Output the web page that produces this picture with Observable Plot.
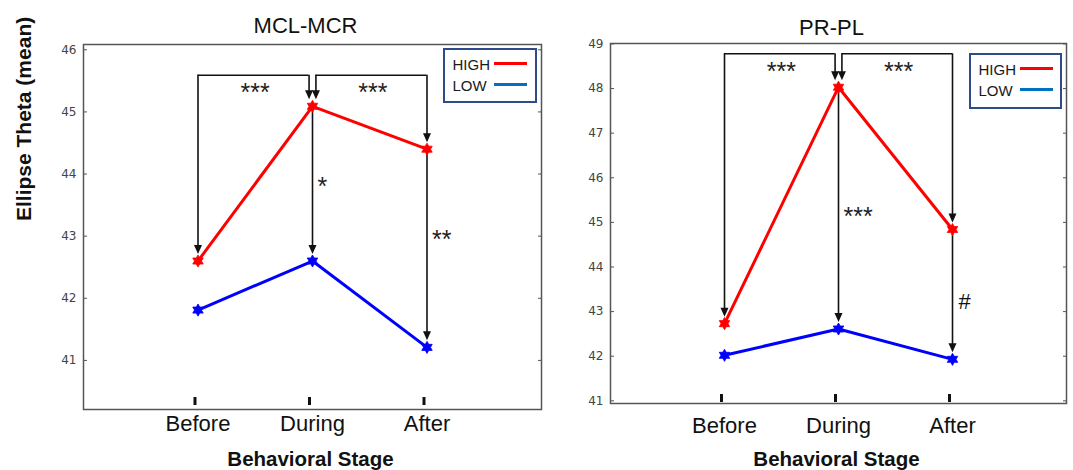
<!DOCTYPE html>
<html>
<head>
<meta charset="utf-8">
<script src="https://cdn.jsdelivr.net/npm/d3@7"></script>
<script src="https://cdn.jsdelivr.net/npm/@observablehq/plot@0.6"></script>
<style>
  body { margin: 0; background: #fff; }
  #page { position: relative; width: 1073px; height: 470px; overflow: hidden; background: #fff;
          font-family: 'Liberation Sans', Arial, sans-serif; }
  .panel { position: absolute; top: 0; }
  .legend { position: absolute; border: 2px solid #2e4b8b; box-sizing: border-box; background: #fff; }
  .legend .lab { position: absolute; font-size: 15px; line-height: 15px; color: #1a1a1a; white-space: nowrap; }
  .legend .sw { position: absolute; height: 3px; }
</style>
</head>
<body>
<div id="page">
  <div id="left" class="panel" style="left:0px"></div>
  <div id="right" class="panel" style="left:545px"></div>
</div>
<script>
// ---------------- data ----------------
const stages = ["Before", "During", "After"];
const groups = ["HIGH", "LOW"];

const mclTitle = "MCL-MCR";
const mclHigh = [42.6, 45.09, 44.4];
const mclLow = [41.81, 42.6, 41.21];
const mclYTicks = [41, 42, 43, 44, 45, 46];
const mclYDomain = [40.21, 46.085];
const mclBrackets = [
  {from: 0, to: 1, level: 45.59, label: "***"},
  {from: 2, to: 1, level: 45.59, label: "***"}
];
const mclPairs = [
  {stage: 1, label: "*", labelY: 43.9},
  {stage: 2, label: "**", labelY: 43.05}
];

const prTitle = "PR-PL";
const prHigh = [42.73, 48.03, 44.84];
const prLow = [42.02, 42.61, 41.93];
const prYTicks = [41, 42, 43, 44, 45, 46, 47, 48, 49];
const prYDomain = [40.94, 49.01];
const prBrackets = [
  {from: 0, to: 1, level: 48.78, label: "***"},
  {from: 2, to: 1, level: 48.78, label: "***"}
];
const prPairs = [
  {stage: 1, label: "***", labelY: 45.27},
  {stage: 2, label: "#", labelY: 43.22}
];

const yAxisTitle = "Ellipse Theta (mean)";
const xAxisTitle = "Behavioral Stage";

// ---------------- styles ----------------
const lineColors = ["#ff0000", "#0000ff"];
const legendColors = ["#ff0000", "#0070c0"];

const hexagram = {
  draw(ctx, size) {
    const R = Math.sqrt(size / Math.PI) * 1.1;
    const r = R / Math.sqrt(3);
    for (let k = 0; k < 12; k++) {
      const a = Math.PI * k / 6 - Math.PI / 2;
      const rad = k % 2 ? r : R;
      if (k === 0) ctx.moveTo(rad * Math.cos(a), rad * Math.sin(a));
      else ctx.lineTo(rad * Math.cos(a), rad * Math.sin(a));
    }
    ctx.closePath();
  }
};
const arrowHead = {
  draw(ctx) { ctx.moveTo(0, 0); ctx.lineTo(-4, -9); ctx.lineTo(4, -9); ctx.closePath(); }
};

function panel(cfg) {
  const {title, high, low, yTicks, yDomain, brackets, pairs, width, height,
         marginLeft, marginRight, marginTop, marginBottom,
         showYLabel, xTickPad, titleDy, xLabelDy, xTickShift, xTickDy} = cfg;
  const rows = stages.flatMap((s, i) => [
    {i, group: groups[0], value: high[i]},
    {i, group: groups[1], value: low[i]}
  ]);
  const arm = 0.03, gap = 7;
  const ends = brackets.map(b => ({...b, end: b.to + (b.to > b.from ? -arm : arm)}));
  const hRules = ends.map(b => ({y: b.level, x1: Math.min(b.from, b.end), x2: Math.max(b.from, b.end)}));
  const vArrows = [
    ...ends.flatMap(b => [
      {x: b.from, y1: b.level, y2: high[b.from]},
      {x: b.end, y1: b.level, y2: high[b.to]}
    ]),
    ...pairs.map(p => ({x: p.stage, y1: high[p.stage], y2: low[p.stage]}))
  ];
  const bLabels = ends.map(b => ({x: (b.from + b.end) / 2, y: b.level, label: b.label}));
  const starPairs = pairs.filter(p => p.label.includes("*"));
  const otherPairs = pairs.filter(p => !p.label.includes("*"));

  const marks = [
    Plot.frame({stroke: "#555", strokeWidth: 1.5}),
    Plot.axisY({ticks: yTicks, tickFormat: d => String(d), tickSize: 0, tickPadding: 7, fontSize: 12,
                fontFamily: "DejaVu Sans", fill: "#444", label: null}),
    Plot.axisY({ticks: yTicks, tickSize: 4, dx: 4, stroke: "#555", fill: "none", label: null}),
    Plot.axisY({anchor: "right", ticks: yTicks, tickSize: 4, dx: -4, stroke: "#555", fill: "none", label: null}),
    Plot.axisX({ticks: [0, 1, 2], tickFormat: i => stages[i], tickSize: 0, tickPadding: xTickPad,
                fontSize: 22, fill: "#111", label: null}),
    Plot.axisX({ticks: [0, 1, 2], tickSize: 8, dy: xTickDy, dx: xTickShift, strokeWidth: 3, stroke: "#111",
                fill: "none", label: null}),
    // significance brackets
    Plot.ruleY(hRules, {y: "y", x1: "x1", x2: "x2", stroke: "#111", strokeWidth: 1.6}),
    Plot.ruleX(vArrows, {x: "x", y1: "y1", y2: "y2", stroke: "#111", strokeWidth: 1.6, insetBottom: gap + 4}),
    Plot.dot(vArrows, {x: "x", y: "y2", symbol: arrowHead, fill: "#111", stroke: "none", dy: -gap}),
    Plot.text(bLabels, {x: "x", y: "y", text: "label", fontSize: 25, dy: 18, dx: 1.5, fill: "#222", ariaLabel: "sig"}),
    Plot.text(starPairs, {x: "stage", y: "labelY", text: "label", fontSize: 25, textAnchor: "start", dx: 5, dy: 7,
                          fill: "#222", ariaLabel: "sig"}),
    Plot.text(otherPairs, {x: "stage", y: "labelY", text: "label", fontSize: 22, textAnchor: "start", dx: 6,
                           fill: "#111"}),
    // series
    Plot.line(rows, {x: "i", y: "value", z: "group", stroke: "group", strokeWidth: 3}),
    Plot.dot(rows, {x: "i", y: "value", fill: "group", stroke: "group", strokeWidth: 0.8, symbol: hexagram, r: 5.5}),
    // titles
    Plot.text([title], {text: d => d, frameAnchor: "top", lineAnchor: "middle", dy: titleDy, dx: -7,
                        fontSize: 22, fill: "#111"}),
    Plot.text([xAxisTitle], {text: d => d, frameAnchor: "bottom", lineAnchor: "middle", dy: xLabelDy, dx: -2,
                             fontSize: 20.5, fontWeight: "bold", fill: "#111"})
  ];
  if (showYLabel) {
    marks.push(Plot.text([yAxisTitle], {text: d => d, frameAnchor: "left", rotate: -90, lineAnchor: "middle",
                                        dx: -59, dy: -6, fontSize: 21, fontWeight: "bold", fill: "#111"}));
  }
  const svg = Plot.plot({
    width, height, marginLeft, marginRight, marginTop, marginBottom,
    style: {fontFamily: "'Liberation Sans', Arial, sans-serif", background: "transparent", overflow: "visible"},
    x: {type: "linear", domain: [-1, 3]},
    y: {domain: yDomain},
    color: {domain: groups, range: lineColors},
    marks
  });
  svg.querySelectorAll('g[aria-label="sig"] text').forEach(t => t.setAttribute("letter-spacing", "3"));
  return svg;
}

document.getElementById("left").append(panel({
  title: mclTitle, high: mclHigh, low: mclLow, yTicks: mclYTicks, yDomain: mclYDomain,
  brackets: mclBrackets, pairs: mclPairs, width: 545, height: 470,
  marginLeft: 83, marginRight: 4, marginTop: 44, marginBottom: 61,
  showYLabel: true, xTickPad: 6, titleDy: -19, xLabelDy: 50, xTickShift: -3, xTickDy: -12
}));
document.getElementById("right").append(panel({
  title: prTitle, high: prHigh, low: prLow, yTicks: prYTicks, yDomain: prYDomain,
  brackets: prBrackets, pairs: prPairs, width: 528, height: 470,
  marginLeft: 65, marginRight: 7, marginTop: 43, marginBottom: 67,
  showYLabel: false, xTickPad: 14, titleDy: -16, xLabelDy: 56, xTickShift: -3, xTickDy: -9
}));

// ---------------- legends ----------------
function legend(left, top, w, h) {
  const box = document.createElement("div");
  box.className = "legend";
  Object.assign(box.style, {left: left + "px", top: top + "px", width: w + "px", height: h + "px"});
  groups.forEach((g, k) => {
    const cy = 13.8 + k * 21;
    const lab = document.createElement("div");
    lab.className = "lab";
    lab.textContent = g;
    Object.assign(lab.style, {left: "7.5px", top: (cy - 7.3) + "px"});
    const sw = document.createElement("div");
    sw.className = "sw";
    Object.assign(sw.style, {left: "48.7px", width: "33.3px", top: (cy - 1.5) + "px", background: legendColors[k]});
    box.append(lab, sw);
  });
  document.getElementById("page").append(box);
}
legend(443, 48, 94, 55);
legend(969, 53, 93, 56);
</script>
</body>
</html>
